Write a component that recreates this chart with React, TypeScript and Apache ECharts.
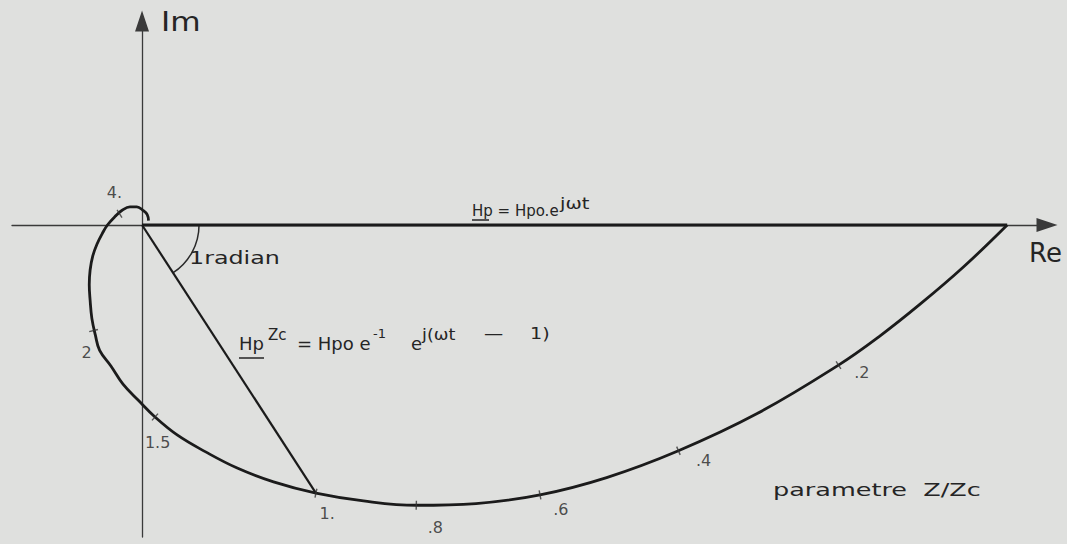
import React, { useEffect, useRef } from "react";
import * as echarts from "echarts";

// Locus of Hp in the complex plane as Z/Zc grows (starts on the Re axis at Hpo = 1)
const LOCUS_RE = [
  1.0, 0.95, 0.9, 0.852, 0.805, 0.711, 0.62, 0.537, 0.46, 0.386, 0.317, 0.256,
  0.201, 0.152, 0.11, 0.073, 0.041, 0.015, -0.004, -0.022, -0.036, -0.049,
  -0.054, -0.058, -0.06, -0.061, -0.06, -0.057, -0.052, -0.046, -0.04, -0.031,
  -0.023, -0.014, -0.006, 0.001, 0.006, 0.0075,
];
const LOCUS_IM = [
  0.0, -0.048, -0.091, -0.129, -0.162, -0.218, -0.261, -0.292, -0.312, -0.322,
  -0.324, -0.319, -0.31, -0.297, -0.281, -0.262, -0.243, -0.222, -0.203,
  -0.184, -0.163, -0.145, -0.127, -0.108, -0.087, -0.069, -0.052, -0.036,
  -0.022, -0.01, 0.0, 0.01, 0.017, 0.021, 0.021, 0.017, 0.012, 0.005,
];

// Parameter marks Z/Zc on the locus and where their numbers sit
const MARK_NAMES = [".2", ".4", ".6", ".8", "1.", "1.5", "2", "4."];
const MARK_RE = [0.805, 0.62, 0.46, 0.317, 0.201, 0.015, -0.056, -0.026];
const MARK_IM = [-0.162, -0.261, -0.312, -0.324, -0.31, -0.222, -0.122, 0.013];
const MARK_TEXT_RE = [0.832, 0.649, 0.484, 0.339, 0.214, 0.018, -0.064, -0.032];
const MARK_TEXT_IM = [-0.17, -0.272, -0.329, -0.35, -0.333, -0.252, -0.147, 0.037];

// Phasors: at Z = 0 and at Z = Zc (modulus e^-1, phase -1 rad)
const PHASOR_0 = [1.0, 0.0];
const PHASOR_ZC = [0.201, -0.31];

// Visible extent of both axes
const RE_RANGE = [-0.1503, 1.046];
const IM_RANGE = [-0.3607, 0.2358];

const INK = "#1b1b1b";
const TEXT = "#252525";
const PAPER = "#dfe0de";
const FONT = "'DejaVu Sans', sans-serif";

// Stencil-style lettering is wider than the font, so texts may be stretched horizontally
function txt(x: number, y: number, text: string, size: number, sx = 1) {
  return {
    type: "text",
    x,
    y,
    scaleX: sx,
    style: {
      x: 0,
      y: 0,
      text,
      fill: TEXT,
      font: `${size}px ${FONT}`,
      textVerticalAlign: "middle",
    },
    silent: true,
  };
}

function uline(x1: number, x2: number, y: number) {
  return {
    type: "line",
    shape: { x1, y1: y, x2, y2: y },
    style: { stroke: TEXT, lineWidth: 1.5 },
    silent: true,
  };
}

export default function App() {
  const ref = useRef<HTMLDivElement>(null);

  useEffect(() => {
    if (!ref.current) return;
    const chart = echarts.init(ref.current, undefined, { renderer: "svg" });

    const locus = LOCUS_RE.map((re, i) => [re, LOCUS_IM[i]]);
    const marks = MARK_RE.map((re, i) => [re, MARK_IM[i]]);
    const markTexts = MARK_NAMES.map((name, i) => ({
      name,
      value: [MARK_TEXT_RE[i], MARK_TEXT_IM[i]],
    }));

    const axisLine = (symbol: string[]) => ({
      show: true,
      onZero: true,
      symbol,
      symbolSize: [14, 21],
      lineStyle: { color: "#3a3a3a", width: 1.3 },
    });

    chart.setOption({
      animation: false,
      backgroundColor: PAPER,
      grid: { left: 12, right: 20, top: 21, bottom: 7 },
      xAxis: {
        type: "value",
        min: RE_RANGE[0],
        max: RE_RANGE[1],
        axisLine: axisLine(["none", "triangle"]),
        axisTick: { show: false },
        axisLabel: { show: false },
        splitLine: { show: false },
      },
      yAxis: {
        type: "value",
        min: IM_RANGE[0],
        max: IM_RANGE[1],
        axisLine: axisLine(["none", "triangle"]),
        axisTick: { show: false },
        axisLabel: { show: false },
        splitLine: { show: false },
      },
      series: [
        {
          type: "line",
          data: [[0, 0], PHASOR_0],
          showSymbol: false,
          lineStyle: { color: INK, width: 3 },
          z: 3,
        },
        {
          type: "line",
          data: [[0, 0], PHASOR_ZC],
          showSymbol: false,
          lineStyle: { color: INK, width: 2.2 },
          z: 3,
        },
        {
          type: "line",
          data: locus,
          smooth: 0.4,
          showSymbol: false,
          lineStyle: { color: INK, width: 2.8 },
          z: 4,
        },
        {
          id: "marks",
          type: "scatter",
          data: marks,
          symbol: "rect",
          symbolSize: [1.4, 9],
          itemStyle: { color: "#333" },
          z: 5,
        },
        {
          type: "scatter",
          data: markTexts,
          symbolSize: 0,
          label: {
            show: true,
            position: "inside",
            formatter: "{b}",
            fontFamily: FONT,
            fontSize: 16,
            color: TEXT,
          },
          z: 6,
        },
      ],
    });

    // Tick marks cross the locus, so each one is turned along the local tangent
    const px = (p: number[]) => chart.convertToPixel({ gridIndex: 0 }, p) as number[];
    const rotations = marks.map((m) => {
      let best = 0;
      let bestD = Infinity;
      locus.forEach((p, i) => {
        const d = (p[0] - m[0]) ** 2 + (p[1] - m[1]) ** 2;
        if (d < bestD) {
          bestD = d;
          best = i;
        }
      });
      const a = px(locus[Math.max(0, best - 1)]);
      const b = px(locus[Math.min(locus.length - 1, best + 1)]);
      return (Math.atan2(-(b[1] - a[1]), b[0] - a[0]) * 180) / Math.PI;
    });

    const o = px([0, 0]);

    chart.setOption({
      series: [
        {},
        {},
        {},
        {
          id: "marks",
          data: marks.map((m, i) => ({ value: m, symbolRotate: rotations[i] })),
        },
        {},
      ],
      graphic: [
        // angle of one radian between the two phasors
        {
          type: "arc",
          shape: { cx: o[0], cy: o[1], r: 57, startAngle: 0, endAngle: 1, clockwise: true },
          style: { stroke: "#2a2a2a", lineWidth: 1.5, fill: "none" },
          silent: true,
        },
        txt(161, 22, "Im", 26, 1.2),
        txt(1029, 253, "Re", 26),
        txt(189, 258, "1radian", 17, 1.4),

        txt(472, 211, "Hp = Hpo.e", 15),
        txt(560, 204, "jωt", 15, 1.3),
        uline(472, 489, 220),

        txt(239, 343, "Hp", 18),
        txt(268, 335, "Zc", 15),
        txt(297, 343, "= Hpo e", 18),
        txt(373, 333, "-1", 13),
        txt(411, 343, "e", 18),
        txt(422, 334, "j(ωt", 16, 1.1),
        txt(484, 334, "—", 16, 1.2),
        txt(530, 334, "1)", 16, 1.2),
        uline(239, 264, 358),

        txt(773, 490, "parametre  Z/Zc", 17, 1.5),
      ],
    });

    return () => chart.dispose();
  }, []);

  return (
    <div
      ref={ref}
      style={{ position: "fixed", left: 0, top: 0, width: 1067, height: 544, background: PAPER }}
    />
  );
}
